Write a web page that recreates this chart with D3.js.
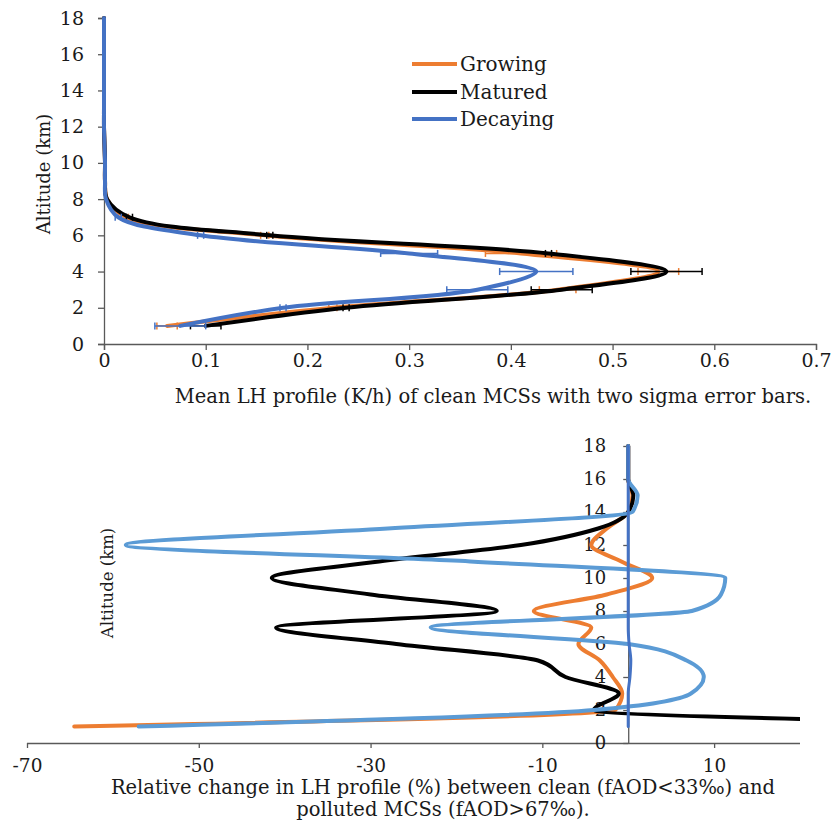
<!DOCTYPE html>
<html>
<head>
<meta charset="utf-8">
<script src="https://cdn.jsdelivr.net/npm/d3@7"></script>
<style>
  html, body { margin: 0; padding: 0; background: #fff; }
  svg { display: block; }
  text { font-family: "DejaVu Serif", serif; fill: #1a1a1a; }
</style>
</head>
<body>
<div id="chart"></div>
<script>
// ---------- Top chart data: mean LH profile (K/h) of clean MCSs ----------
const altitudes = [1,2,3,4,5,6,7,8,9,10,11,12,13,14,15,16,17,18];
const seriesNames = ["Growing", "Matured", "Decaying"];
const growingLH  = [0.062,0.225,0.446,0.545,0.410,0.158,0.022,0.003,0.001,0.001,0.0005,0,0,0,0,0,0,0];
const maturedLH  = [0.100,0.238,0.450,0.553,0.437,0.163,0.025,0.003,0.001,0.001,0.0005,0,0,0,0,0,0,0];
const decayingLH = [0.075,0.176,0.367,0.425,0.300,0.095,0.014,0.002,0.001,0.001,0.0005,0,0,0,0,0,0,0];
const growingErr  = [0.010,0.004,0.018,0.020,0.035,0.004,0.002,0,0,0,0,0,0,0,0,0,0,0];
const maturedErr  = [0.015,0.003,0.030,0.035,0.003,0.003,0.003,0,0,0,0,0,0,0,0,0,0,0];
const decayingErr = [0.025,0.003,0.030,0.036,0.028,0.003,0.003,0,0,0,0,0,0,0,0,0,0,0];
const topXTicks = [0,0.1,0.2,0.3,0.4,0.5,0.6,0.7];
const altTicks = [0,2,4,6,8,10,12,14,16,18];

// ---------- Bottom chart data: relative change (%) clean vs polluted ----------
const growingChange  = [-64.5,-1.5,-0.7,-1.8,-3.3,-5.8,-4.3,-11,-2.5,2.8,-0.8,-4.3,-2.5,0,0.5,0,0,0];
const maturedChange  = [62,-4,-1.1,-7.3,-10.5,-27,-41,-15.3,-30,-41.5,-29,-12.5,-3.5,0,0.6,0,0,0];
const decayingChange = [-57,-4,7.3,8.8,6.8,0,-23,7.4,10.8,11.3,-18.4,-58.5,-28,0.5,1.1,0,0,0];
const zeroRef        = [0,0,0,0.2,0.3,0.1,0,0,0,0,0,0,0,0,0,0,0,0];
const botXTicks = [-70,-50,-30,-10,10];

const topTitle = "Mean LH profile (K/h) of clean MCSs with two sigma error bars.";
const botTitle1 = "Relative change in LH profile (%) between clean (fAOD<33\u2030) and";
const botTitle2 = "polluted MCSs (fAOD>67\u2030).";
const yTitle = "Altitude (km)";

const colors = { Growing: "#ED7D31", Matured: "#000000", Decaying: "#4472C4" };
const botColors = { Growing: "#ED7D31", Matured: "#000000", Decaying: "#5B9BD5", Zero: "#4472C4" };
const axisColor = "#595959";

const svg = d3.select("#chart").append("svg").attr("width", 833).attr("height", 825);

// ================= TOP CHART =================
const xTop = d3.scaleLinear().domain([0, 0.7]).range([104, 816]);
const yTop = d3.scaleLinear().domain([0, 18]).range([344, 18]);

const gTop = svg.append("g");
const xAxT = gTop.append("g").attr("transform", "translate(0,344)")
  .call(d3.axisBottom(xTop).tickValues(topXTicks).tickSize(6).tickPadding(3.5)
    .tickFormat(d => d === 0 ? "0" : d3.format(".1f")(d)));
const yAxT = gTop.append("g").attr("transform", "translate(104,0)")
  .call(d3.axisLeft(yTop).tickValues(altTicks).tickSize(6).tickPadding(14));
[xAxT, yAxT].forEach(a => {
  a.selectAll("path.domain").attr("stroke", axisColor).attr("stroke-width", 1.3);
  a.selectAll(".tick line").attr("stroke", axisColor).attr("stroke-width", 1.3);
  a.selectAll("text").style("font-family", "DejaVu Serif").style("font-size", "19px").attr("fill", "#1a1a1a");
});

const topSeries = [
  { name: "Growing", vals: growingLH, err: growingErr },
  { name: "Matured", vals: maturedLH, err: maturedErr },
  { name: "Decaying", vals: decayingLH, err: decayingErr }
];
const lineTop = d3.line().x(d => xTop(d.v)).y(d => yTop(d.a)).curve(d3.curveCatmullRom.alpha(0.5));
topSeries.forEach(s => {
  const pts = altitudes.map((a, i) => ({ a, v: s.vals[i], e: s.err[i] }));
  gTop.append("path").datum(pts).attr("d", lineTop)
    .attr("fill", "none").attr("stroke", colors[s.name]).attr("stroke-width", 4)
    .attr("stroke-linejoin", "round").attr("stroke-linecap", "round");
  const eb = gTop.append("g").attr("stroke", colors[s.name]).attr("stroke-width", 1.5);
  pts.filter(p => p.e > 0).forEach(p => {
    const y0 = yTop(p.a), xl = xTop(p.v - p.e), xr = xTop(p.v + p.e);
    eb.append("line").attr("x1", xl).attr("x2", xr).attr("y1", y0).attr("y2", y0);
    eb.append("line").attr("x1", xl).attr("x2", xl).attr("y1", y0 - 3.5).attr("y2", y0 + 3.5);
    eb.append("line").attr("x1", xr).attr("x2", xr).attr("y1", y0 - 3.5).attr("y2", y0 + 3.5);
  });
});

// legend
const legYs = [64, 92, 119];
seriesNames.forEach((n, i) => {
  gTop.append("line").attr("x1", 412).attr("x2", 457).attr("y1", legYs[i]).attr("y2", legYs[i])
    .attr("stroke", colors[n]).attr("stroke-width", 4);
  gTop.append("text").attr("x", 460).attr("y", legYs[i] + 7).style("font-size", "20px").text(n);
});

gTop.append("text").attr("transform", "translate(43,174) rotate(-90)")
  .attr("text-anchor", "middle").attr("dominant-baseline", "central")
  .style("font-size", "18px").text(yTitle);
gTop.append("text").attr("x", 493).attr("y", 403).attr("text-anchor", "middle")
  .style("font-size", "19.5px").text(topTitle);

// ================= BOTTOM CHART =================
const xBot = d3.scaleLinear().domain([-70, 20]).range([27, 800]);
const yBot = d3.scaleLinear().domain([0, 18]).range([743, 446]);

const gBot = svg.append("g");
svg.append("defs").append("clipPath").attr("id", "botClip")
  .append("rect").attr("x", 27).attr("y", 440).attr("width", 773).attr("height", 310);

const xAxB = gBot.append("g").attr("transform", "translate(0,743)")
  .call(d3.axisBottom(xBot).tickValues(botXTicks).tickSize(5).tickPadding(11).tickFormat(d => String(d)));
const yAxB = gBot.append("g").attr("transform", `translate(${xBot(0)},0)`)
  .call(d3.axisLeft(yBot).tickValues(altTicks).tickSize(5).tickPadding(17));
[xAxB, yAxB].forEach(a => {
  a.selectAll("path.domain").attr("stroke", axisColor).attr("stroke-width", 1.3);
  a.selectAll(".tick line").attr("stroke", axisColor).attr("stroke-width", 1.3);
  a.selectAll("text").style("font-family", "DejaVu Serif").attr("fill", "#1a1a1a");
});
xAxB.selectAll("text").style("font-size", "18.5px");
yAxB.selectAll("text").style("font-size", "18px");
// Excel draws the axis line to the plot edge
xAxB.select("path.domain").attr("d", `M27,0.5H800`);
yAxB.select("path.domain").attr("d", `M0.5,${yBot(18)}V${yBot(0)}`);

const botSeries = [
  { name: "Growing", vals: growingChange, w: 4 },
  { name: "Matured", vals: maturedChange, w: 4 },
  { name: "Decaying", vals: decayingChange, w: 4 },
  { name: "Zero", vals: zeroRef, w: 3 }
];
const lineBot = d3.line().x(d => xBot(d.v)).y(d => yBot(d.a)).curve(d3.curveMonotoneY);
const plotB = gBot.append("g").attr("clip-path", "url(#botClip)");
botSeries.forEach(s => {
  // ordered top to bottom on screen so the monotone curve runs along increasing y
  const pts = altitudes.map((a, i) => ({ a, v: s.vals[i] })).reverse();
  plotB.append("path").datum(pts).attr("d", lineBot)
    .attr("fill", "none").attr("stroke", botColors[s.name]).attr("stroke-width", s.w)
    .attr("stroke-linejoin", "round").attr("stroke-linecap", "round");
});

gBot.append("text").attr("transform", "translate(107,583) rotate(-90)")
  .attr("text-anchor", "middle").attr("dominant-baseline", "central")
  .style("font-size", "16.5px").text(yTitle);
gBot.append("text").attr("x", 443).attr("y", 794).attr("text-anchor", "middle")
  .style("font-size", "19.5px").text(botTitle1);
gBot.append("text").attr("x", 443).attr("y", 816).attr("text-anchor", "middle")
  .style("font-size", "19.5px").text(botTitle2);
</script>
</body>
</html>
